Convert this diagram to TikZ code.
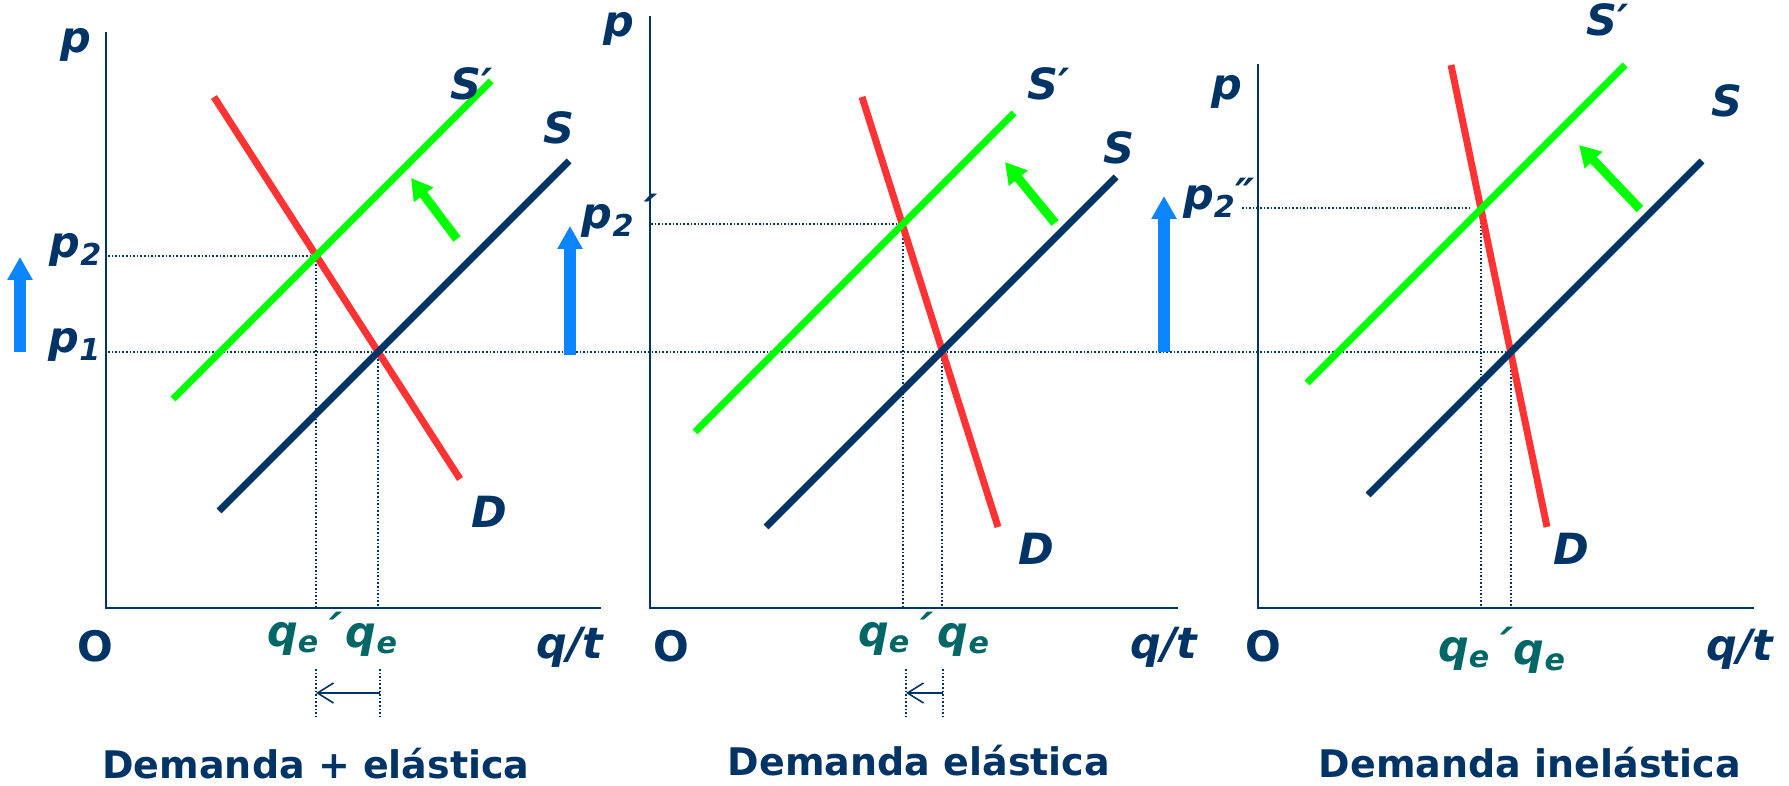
\documentclass[tikz,border=0pt]{standalone}
\usepackage{fontspec}
\setmainfont{DejaVu Sans}
\usepackage{tikz}
\usetikzlibrary{arrows.meta}
\definecolor{navy}{RGB}{0,51,102}
\definecolor{demred}{RGB}{255,51,51}
\definecolor{supgreen}{RGB}{0,255,0}
\definecolor{priceblue}{RGB}{10,132,255}
\definecolor{qteal}{RGB}{0,102,102}
\newcommand{\panelaxes}[3]{%
  \draw[axisline] (#1,#2) -- (#1,608) -- (#3,608);
}
\newcommand{\qshift}[2]{%
  \draw[guideline] (#1,669) -- (#1,716);
  \draw[guideline] (#2,669) -- (#2,716);
  \draw[qarr] (#2,693) -- (#1,693);
}

\begin{document}
\begin{tikzpicture}[x=0.5pt,y=-0.5pt,
  axisline/.style={draw=navy,line width=1.3pt},
  guideline/.style={draw=navy,line width=0.8pt,dash pattern=on 0.8pt off 1pt},
  sline/.style={draw=navy,line width=3.5pt},
  snew/.style={draw=supgreen,line width=3.5pt},
  dline/.style={draw=demred,line width=3.5pt},
  lbl/.style={inner sep=0pt,text=navy,font=\fontsize{21.5}{25}\selectfont\bfseries\itshape},
  qlbl/.style={lbl,text=qteal},
  olbl/.style={inner sep=0pt,text=navy,font=\fontsize{21}{25}\selectfont\bfseries},
  ttl/.style={inner sep=0pt,text=navy,font=\fontsize{19}{23}\selectfont\bfseries},
  parr/.style={draw=priceblue,line width=5.7pt,-{Triangle[width=12pt,length=11.5pt]}},
  garr/.style={draw=supgreen,line width=4.5pt,-{Triangle[width=11.5pt,length=10.5pt]}},
  qarr/.style={draw=navy,line width=0.8pt,-{Straight Barb[length=8pt,width=10pt]}}]
\useasboundingbox (0,0) rectangle (1789,786);

\panelaxes{106}{32}{601}
\panelaxes{650}{16}{1178}
\panelaxes{1258}{64}{1754}

\draw[guideline] (108,352) -- (1511,352);
\draw[guideline] (108,256) -- (316,256) -- (316,608);
\draw[guideline] (378,352) -- (378,608);
\draw[guideline] (651,224) -- (903,224) -- (903,608);
\draw[guideline] (942,352) -- (942,608);
\draw[guideline] (1242,208) -- (1470,208);
\draw[guideline] (1481,208) -- (1481,608);
\draw[guideline] (1511,352) -- (1511,608);
\qshift{316}{380}
\qshift{906}{943}

\draw[dline] (214,97) -- (460,479);
\draw[snew] (173,399) -- (491,81);
\draw[sline] (219,511) -- (569,161);
\draw[dline] (862,97) -- (998,527);
\draw[snew] (695,432) -- (1014,113);
\draw[sline] (766,527) -- (1116,177);
\draw[dline] (1451,65) -- (1547,527);
\draw[snew] (1307,383) -- (1625,65);
\draw[sline] (1368,495) -- (1702,161);

\draw[parr] (20,352) -- (20,257);
\draw[parr] (570,355) -- (570,226);
\draw[parr] (1164,352) -- (1164,196);
\draw[garr] (457,239) -- (411,178);
\draw[garr] (1055,223) -- (1005,162);
\draw[garr] (1640,209) -- (1579,145);

\node[lbl] (pA) at (76,45) {p};
\node[lbl] (p2A) at (76,250) {p\textsubscript{2}};
\node[lbl] (p1A) at (75,345) {p\textsubscript{1}};
\node[lbl] (SnA) at (472,84) {S′};
\node[lbl] (SA) at (559,128) {S};
\node[lbl] (DA) at (489,512) {D};
\node[olbl] (OA) at (95,646) {O};
\node[qlbl] (qnA) at (304,634) {q\textsubscript{e}´};
\node[qlbl] (qA) at (372,640) {q\textsubscript{e}};
\node[lbl] (qtA) at (570,647) {q/t};
\node[ttl] (tA) at (316,764) {Demanda + elástica};

\node[lbl] (pB) at (619,29) {p};
\node[lbl] (p2B) at (619,216) {p\textsubscript{2}´};
\node[lbl] (SnB) at (1049,84) {S′};
\node[lbl] (SB) at (1119,148) {S};
\node[lbl] (DB) at (1036,549) {D};
\node[olbl] (OB) at (671,646) {O};
\node[qlbl] (qnB) at (895,634) {q\textsubscript{e}´};
\node[qlbl] (qB) at (964,640) {q\textsubscript{e}};
\node[lbl] (qtB) at (1164,647) {q/t};
\node[ttl] (tB) at (919,761) {Demanda elástica};

\node[lbl] (pC) at (1227,92) {p};
\node[lbl] (p2C) at (1219,198) {p\textsubscript{2}″};
\node[lbl] (SnC) at (1608,20) {S′};
\node[lbl] (SC) at (1727,101) {S};
\node[lbl] (DC) at (1571,549) {D};
\node[olbl] (OC) at (1263,646) {O};
\node[qlbl] (qnC) at (1475,649) {q\textsubscript{e}´};
\node[qlbl] (qC) at (1540,657) {q\textsubscript{e}};
\node[lbl] (qtC) at (1740,649) {q/t};
\node[ttl] (tC) at (1530,763) {Demanda inelástica};
\end{tikzpicture}
\end{document}
